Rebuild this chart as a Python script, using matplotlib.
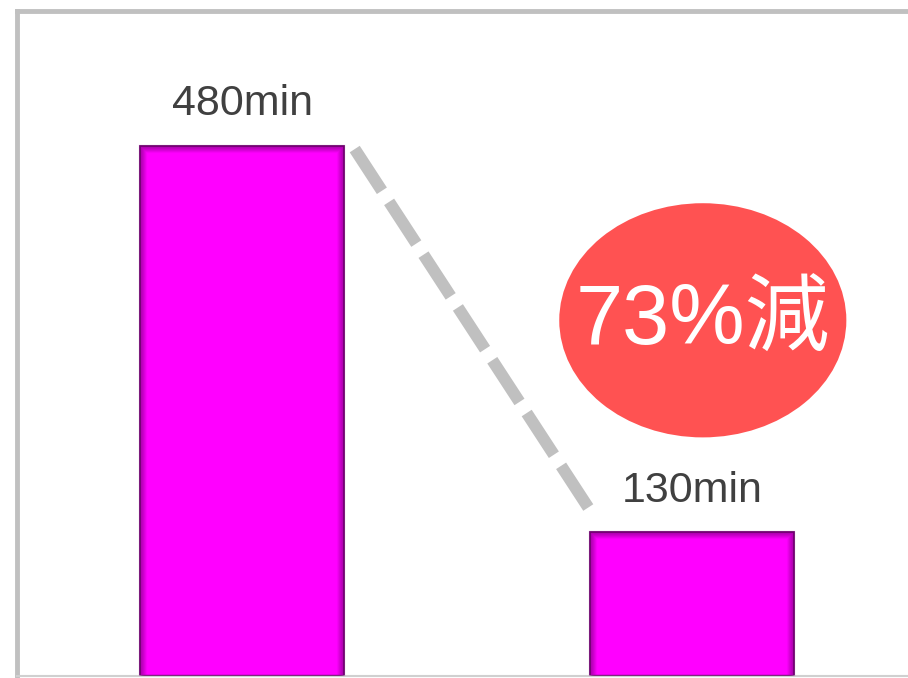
import matplotlib.pyplot as plt
from matplotlib.patches import Ellipse, Rectangle

# data
positions = [0, 1]
values = [480, 130]
labels = ["480min", "130min"]
badge_text = "73%減"

bar_w = 0.453
bar_color = "#ff00ff"
shadow_color = "#6e006e"

fig = plt.figure(figsize=(9.08, 6.78), dpi=100)
ax = fig.add_axes([17 / 908, 2 / 678, 1 - 17 / 908, 665 / 678])
ax.set_xlim(-0.5, 1.48)
ax.set_ylim(0, 602)

bars = ax.bar(positions, values, width=bar_w, color=bar_color,
              edgecolor=shadow_color, linewidth=1.2, zorder=2)

# soft inner shadow along the bar edges
for b in bars:
    x0, y0 = b.get_x(), b.get_y()
    w, h = b.get_width(), b.get_height()
    for i in range(7):
        dx = i * 0.0022
        dy = i * 0.9
        ax.add_patch(Rectangle((x0 + dx, y0), w - 2 * dx, h - dy, fill=False,
                               edgecolor=shadow_color, linewidth=1.6,
                               alpha=0.35 * (1 - i / 7), zorder=3))

for p, v, lab in zip(positions, values, labels):
    ax.annotate(lab, (p, v), xytext=(0, 22), textcoords="offset points",
                ha="center", va="baseline", fontsize=31,
                family=["Liberation Sans", "DejaVu Sans"], color="#404040")

# dashed connector between the bar tops
ax.plot([positions[0] + bar_w / 2 + 0.024, positions[1] - bar_w / 2],
        [values[0] - 3, values[1] + 20], color="#c0c0c0", linewidth=8.6,
        linestyle=(0, (50 / 12, 13.3 / 12)), solid_capstyle="butt",
        dash_capstyle="butt", zorder=1)

# badge
ax.add_patch(Ellipse((1.024, 322), 0.638, 212, facecolor="#ff5252",
                     edgecolor="none", zorder=4))
ax.text(1.025, 320, badge_text, ha="center", va="center", fontsize=61,
        family=["Liberation Sans", "Noto Sans CJK JP"], color="white", zorder=5)

ax.set_xticks([])
ax.set_yticks([])
for side in ["left", "top"]:
    ax.spines[side].set_color("#c0c0c0")
    ax.spines[side].set_linewidth(3.5)
ax.spines["bottom"].set_color("#d0d0d0")
ax.spines["bottom"].set_linewidth(1.5)
ax.spines["right"].set_visible(False)

fig.savefig("out.png", dpi=100)
